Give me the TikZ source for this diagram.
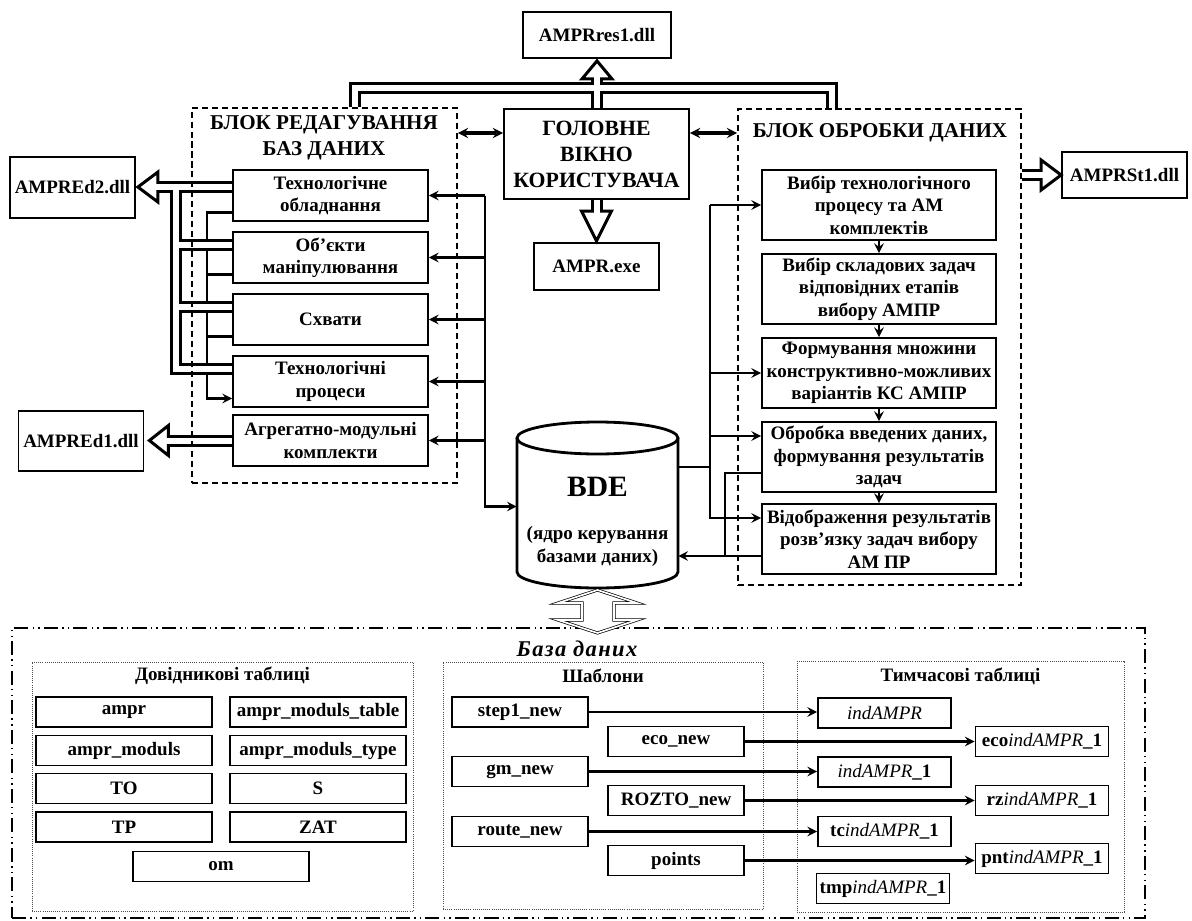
\documentclass[tikz,border=0pt]{standalone}
\usepackage{fontspec}
\setmainfont{Liberation Serif}
\usepackage{tikz}
\usetikzlibrary{calc,backgrounds}

\newcommand{\upx}{0.025cm}

\tikzset{
  blk/.style={draw, line width=1.3pt, align=center, inner sep=1pt,
    font=\bfseries\fontsize{13.5}{16}\selectfont},
  head/.style={align=center, font=\bfseries\fontsize{15}{18.5}\selectfont},
  lbox/.style={blk, minimum width=195*\upx, minimum height=51*\upx},
  rbox/.style={blk, minimum width=234*\upx, minimum height=70*\upx},
  dllbox/.style={blk, minimum width=125*\upx},
  refbox/.style={blk, minimum width=176*\upx, minimum height=30*\upx},
  tplbox/.style={blk, minimum width=136*\upx, minimum height=30*\upx},
  tmpbox/.style={blk, minimum width=133*\upx, minimum height=30*\upx,
    font=\fontsize{13.5}{16}\selectfont},
  frm/.style={draw, line width=1.1pt, dash pattern=on 4.3pt off 2.8pt},
  dbfrm/.style={draw, line width=1pt,
    dash pattern=on 10pt off 3pt on 1pt off 3pt on 1pt off 3pt},
  grp/.style={draw, line width=0.5pt, densely dotted, black!70},
  conn/.style={line width=2pt},
  pipe/.style={line width=12*\upx, line join=miter},
  pipein/.style={line width=6*\upx, white, line join=miter},
  hhead/.pic={\draw[line width=3*\upx, fill=white, line join=miter]
    (0,0) -- (-#1,15) -- (-#1,-15) -- cycle;},
}

\begin{document}
\begin{tikzpicture}[x=\upx, y=-\upx, >=stealth]
  \useasboundingbox (0,0) rectangle (1192,921);

  \node[blk, minimum width=148*\upx, minimum height=46*\upx] (res) at (597,35) {AMPRres1.dll};
  \node[blk, font=\bfseries\fontsize{15.5}{18.5}\selectfont,
    minimum width=185*\upx, minimum height=90*\upx] (mainwin) at (596.5,154)
    {ГОЛОВНЕ\\ВІКНО\\КОРИСТУВАЧА};
  \node[blk, minimum width=125*\upx, minimum height=47*\upx] (exe) at (596.5,266.5) {AMPR.exe};

  \node[frm, minimum width=265*\upx, minimum height=375*\upx] (edblk) at (324.5,295.5) {};
  \node[head] (edtitle) at (324,138) {БЛОК РЕДАГУВАННЯ\\БАЗ ДАНИХ};
  \node[frm, minimum width=283*\upx, minimum height=476*\upx] (procblk) at (879.5,347) {};
  \node[head] (proctitle) at (880,133) {БЛОК ОБРОБКИ ДАНИХ};

  \node[dllbox, minimum height=61*\upx] (ed2) at (72.5,187.5) {AMPREd2.dll};
  \node[dllbox, minimum height=60*\upx] (ed1) at (81,441) {AMPREd1.dll};
  \node[dllbox, minimum height=46*\upx] (st1) at (1124.5,175) {AMPRSt1.dll};

  \node[lbox] (l1) at (330.5,195.5) {Технологічне\\обладнання};
  \node[lbox] (l2) at (330.5,257.5) {Об’єкти\\маніпулювання};
  \node[lbox] (l3) at (330.5,319.5) {Схвати};
  \node[lbox] (l4) at (330.5,381.5) {Технологічні\\процеси};
  \node[lbox] (l5) at (330.5,440.5) {Агрегатно-модульні\\комплекти};

  \node[rbox] (r1) at (879,205) {Вибір технологічного\\процесу та АМ\\комплектів};
  \node[rbox] (r2) at (879,289) {Вибір складових задач\\відповідних етапів\\вибору АМПР};
  \node[rbox] (r3) at (879,373) {Формування множини\\конструктивно-можливих\\варіантів КС АМПР};
  \node[rbox] (r4) at (879,457) {Обробка введених даних,\\формування результатів\\задач};
  \node[rbox] (r5) at (879,539) {Відображення результатів\\розв’язку задач вибору\\АМ ПР};

  \node[minimum width=161*\upx, minimum height=169*\upx] (bde) at (597.5,506.5) {};
  \draw[line width=2pt] (597.5,438) ellipse [x radius=80.5, y radius=16];
  \draw[line width=2pt] (517,438) -- (517,572)
    arc[start angle=180, end angle=0, x radius=80.5, y radius=16] -- (678,438);
  \node[font=\bfseries\fontsize{21}{24}\selectfont] (bdename) at (597.5,487) {BDE};
  \node[blk, draw=none] (bdenote) at (597.5,546.5) {(ядро керування\\базами даних)};

  \begin{pgfonlayer}{background}
    \coordinate (lbus2) at (207,0);
    \coordinate (a1) at ($(l1.west)+(0,17)$);
    \coordinate (a2) at ($(l2.west)+(0,17)$);
    \coordinate (a3) at ($(l3.west)+(0,17)$);
    \coordinate (a4) at ($(l4.west)+(0,17)$);
    \draw[conn,->] (a1) -| (lbus2 |- a4) -- (a4);
    \draw[conn] (a2) -- (a2 -| lbus2);
    \draw[conn] (a3) -- (a3 -| lbus2);

    \coordinate (tpL) at ($(edblk.north)+(30.5,0)$);
    \coordinate (tpR) at ($(procblk.north)+(-47.5,0)$);
    \coordinate (vb) at (176,0);
    \coordinate (p1) at ($(l1.west)+(0,-8.5)$);
    \coordinate (p2) at ($(l2.west)+(0,-12.5)$);
    \coordinate (p3) at ($(l3.west)+(0,-12.5)$);
    \coordinate (p4) at ($(l4.west)+(0,-12.5)$);
    \coordinate (e2tip) at ($(p1 -| ed2.east)+(2,0)$);
    \coordinate (e1tip) at ($(l5.west -| ed1.east)+(5,0)$);
    \coordinate (s1tip) at (st1.west);

    \draw[pipe] (tpL) |- (tpR |- 0,88) -- (tpR);
    \draw[pipe] (mainwin.north) -- ++(0,-31);
    \draw[pipe] (mainwin.south) -- ++(0,13);
    \draw[pipe] (p1) -- ($(e2tip)+(20,0)$);
    \draw[pipe] (p1 -| vb) -- (p4 -| vb) -- (p4);
    \draw[pipe] (p2 -| vb) -- (p2);
    \draw[pipe] (p3 -| vb) -- (p3);
    \draw[pipe] (l5.west) -- ($(e1tip)+(19,0)$);
    \draw[pipe] (s1tip -| procblk.east) -- ($(s1tip)+(-20,0)$);

    \pic[rotate=90] at ($(res.south)+(0,2)$) {hhead=18};
    \pic[rotate=-90] at ($(exe.north)+(0,-1)$) {hhead=30};
    \pic[rotate=180] at (e2tip) {hhead=20};
    \pic[rotate=180] at (e1tip) {hhead=19};
    \pic at (s1tip) {hhead=20};

    \draw[pipein] (tpL) |- (tpR |- 0,88) -- (tpR);
    \draw[pipein] (mainwin.north) -- ++(0,-34);
    \draw[pipein] (mainwin.south) -- ++(0,16);
    \draw[pipein] (p1) -- ($(e2tip)+(17,0)$);
    \draw[pipein] (p1 -| vb) -- (p4 -| vb) -- (p4);
    \draw[pipein] (p2 -| vb) -- (p2);
    \draw[pipein] (p3 -| vb) -- (p3);
    \draw[pipein] (l5.west) -- ($(e1tip)+(16,0)$);
    \draw[pipein] (s1tip -| procblk.east) -- ($(s1tip)+(-17,0)$);
  \end{pgfonlayer}

  \coordinate (mwL) at ($(mainwin.west)+(0,-21)$);
  \coordinate (mwR) at ($(mainwin.east)+(0,-21)$);
  \draw[line width=2.2pt,<->] (mwL) -- (mwL -| edblk.east);
  \draw[line width=2.2pt,<->] (mwR) -- (mwR -| procblk.west);

  \coordinate (lbus) at (485,0);
  \draw[conn,->] (l1.east -| lbus) -- (bde.west -| lbus) -- (bde.west);
  \foreach \b in {l1,l2,l3,l4,l5}
    \draw[conn,->] (\b.east -| lbus) -- (\b.east);

  \coordinate (rbus) at (710,0);
  \coordinate (rret) at (725,0);
  \coordinate (bdeR1) at ($(bde.east)+(0,-39.5)$);
  \coordinate (b4) at ($(r4.west)+(0,-21)$);
  \coordinate (b5) at ($(r5.west)+(0,-21)$);
  \coordinate (c4) at ($(r4.west)+(0,16)$);
  \coordinate (c5) at ($(r5.west)+(0,17)$);
  \draw[conn] (bdeR1) -- (bdeR1 -| rbus);
  \draw[conn,->] (r1.west -| rbus) -- (b5 -| rbus) -- (b5);
  \draw[conn,->] (r1.west -| rbus) -- (r1.west);
  \draw[conn,->] (r3.west -| rbus) -- (r3.west);
  \draw[conn,->] (b4 -| rbus) -- (b4);
  \draw[conn] (c4) -| (c5 -| rret);
  \draw[conn,->] (c5) -- (c5 -| bde.east);
  \draw[conn,->] (r1) -- (r2);
  \draw[conn,->] (r2) -- (r3);
  \draw[conn,->] (r3) -- (r4);
  \draw[conn,->] (r4) -- (r5);

  \node[dbfrm, minimum width=1133*\upx, minimum height=290*\upx] (db) at (578.5,773) {};
  \node[font=\bfseries\itshape\fontsize{16}{18}\selectfont\addfontfeature{LetterSpace=6}] (dbtitle) at (577,649) {База даних};
  \draw[line width=0.5pt, double, double distance=1.2pt, fill=white]
    (597.5,590) -- (637,603) -- (614,603) -- (614,620) -- (637,620) -- (597.5,633)
    -- (558,620) -- (582,620) -- (582,603) -- (558,603) -- cycle;

  \node[grp, minimum width=381*\upx, minimum height=249*\upx] (refgrp) at (222.5,786.5) {};
  \node[blk, draw=none] (reftitle) at (222.5,676) {Довідникові таблиці};
  \node[refbox] (ampr) at (124,712) {ampr};
  \node[refbox] (amprmt) at (318,712) {ampr\_moduls\_table};
  \node[refbox] (amprm) at (124,750.5) {ampr\_moduls};
  \node[refbox] (amprtype) at (318,750.5) {ampr\_moduls\_type};
  \node[refbox] (to) at (124,788.5) {TO};
  \node[refbox] (s) at (318,788.5) {S};
  \node[refbox] (tp) at (124,827) {TP};
  \node[refbox] (zat) at (318,827) {ZAT};
  \node[refbox] (om) at (221,866.5) {om};

  \node[grp, minimum width=320*\upx, minimum height=247*\upx] (tplgrp) at (603,785.5) {};
  \node[blk, draw=none] (tpltitle) at (603,676) {Шаблони};
  \node[tplbox] (t1) at (520,712) {step1\_new};
  \node[tplbox] (t2) at (676,741.5) {eco\_new};
  \node[tplbox] (t3) at (520,771.5) {gm\_new};
  \node[tplbox] (t4) at (676,800.5) {ROZTO\_new};
  \node[tplbox] (t5) at (520,831.5) {route\_new};
  \node[tplbox] (t6) at (676,860.5) {points};

  \node[grp, minimum width=327*\upx, minimum height=251*\upx] (tmpgrp) at (960.5,786.5) {};
  \node[blk, draw=none] (tmptitle) at (960.5,676) {Тимчасові таблиці};
  \node[tmpbox] (m1) at (884.5,713) {\textit{indAMPR}};
  \node[tmpbox] (m2) at (1042,741.5) {\textbf{eco}\textit{indAMPR}\textbf{\_1}};
  \node[tmpbox] (m3) at (884.5,772) {\textit{indAMPR}\textbf{\_1}};
  \node[tmpbox] (m4) at (1042,800.5) {\textbf{rz}\textit{indAMPR}\textbf{\_1}};
  \node[tmpbox] (m5) at (884.5,831.5) {\textbf{tc}\textit{indAMPR}\textbf{\_1}};
  \node[tmpbox] (m6) at (1042,858.5) {\textbf{pnt}\textit{indAMPR}\textbf{\_1}};
  \node[tmpbox] (m7) at (883,888.5) {\textbf{tmp}\textit{indAMPR}\textbf{\_1}};

  \draw[conn,->] (t1.east) -- (t1.east -| m1.west);
  \draw[conn,->] (t2.east) -- (t2.east -| m2.west);
  \draw[conn,->] (t3.east) -- (t3.east -| m3.west);
  \draw[conn,->] (t4.east) -- (t4.east -| m4.west);
  \draw[conn,->] (t5.east) -- (t5.east -| m5.west);
  \draw[conn,->] (t6.east) -- (t6.east -| m6.west);
\end{tikzpicture}
\end{document}
